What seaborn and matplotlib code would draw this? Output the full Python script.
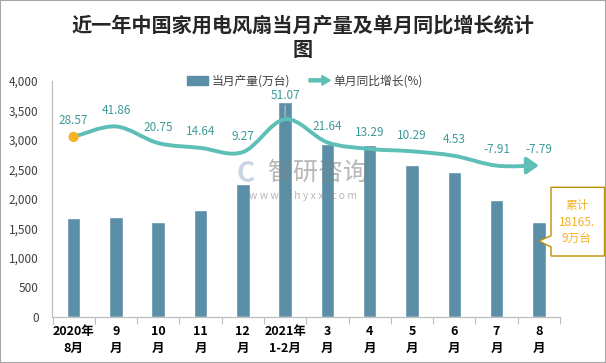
import matplotlib
matplotlib.use("Agg")
import matplotlib.pyplot as plt
import seaborn as sns
from matplotlib.patches import FancyArrowPatch, FancyArrow, Patch, Polygon, Rectangle
from matplotlib.legend_handler import HandlerPatch
from matplotlib.path import Path

months = ["2020年\n8月", "9\n月", "10\n月", "11\n月", "12\n月", "2021年\n1-2月",
          "3\n月", "4\n月", "5\n月", "6\n月", "7\n月", "8\n月"]
output = [1674, 1691, 1606, 1809, 2250, 3634, 2922, 2910, 2572, 2453, 1979, 1611]
yoy = [28.57, 41.86, 20.75, 14.64, 9.27, 51.07, 21.64, 13.29, 10.29, 4.53, -7.91, -7.79]
y_ticks = list(range(0, 4001, 500))

BAR_C = "#5B8FA7"
LINE_C = "#5EBFB6"
LABEL_C = "#3F9A9A"
DOT_C = "#F5B325"

sns.set_theme(style="white")
plt.rcParams["font.family"] = ["Noto Sans CJK SC", "DejaVu Sans"]

W, H = 606, 363
fig = plt.figure(figsize=(W / 100, H / 100), dpi=100)


def px(x, y):
    # pixel (from top-left) -> figure fraction
    return x / W, 1 - y / H


ax = fig.add_axes([52.5 / W, 1 - 316.8 / H, (560 - 52.5) / W, (316.8 - 80.7) / H])
sns.barplot(x=months, y=output, color=BAR_C, saturation=1, width=0.32, ax=ax, zorder=2)
ax.set_xlim(-0.5, len(months) - 0.5)
ax.set_ylim(0, 4000)
ax.set_yticks(y_ticks)
ax.set_yticklabels([f"{v:,}" for v in y_ticks], fontsize=8.5, color="#404040")
ax.tick_params(axis="y", length=0, pad=10)
ax.set_xticks(range(len(months)))
ax.set_xticklabels(months, fontsize=9, fontweight="bold", color="black", linespacing=1.35)
ax.set_xticks([i - 0.5 for i in range(len(months) + 1)], minor=True)
ax.tick_params(axis="x", which="major", length=0, pad=6)
ax.tick_params(axis="x", which="minor", length=5, color="#BFBFBF", width=0.8, bottom=True)
ax.set_xlabel("")
ax.set_ylabel("")
for s in ["top", "right"]:
    ax.spines[s].set_visible(False)
for s in ["left", "bottom"]:
    ax.spines[s].set_color("#BFBFBF")
    ax.spines[s].set_linewidth(0.9)

# secondary axis for growth line
ax2 = ax.twinx()
ax2.set_ylim(-200, 100)
ax2.set_xlim(ax.get_xlim())
ax2.axis("off")

# smooth (Catmull-Rom -> Bezier) path through the data points
pts = list(zip(range(len(yoy)), yoy))
verts = [pts[0]]
codes = [Path.MOVETO]
for i in range(len(pts) - 1):
    p0 = pts[i - 1] if i > 0 else pts[i]
    p1 = pts[i]
    p2 = pts[i + 1]
    p3 = pts[i + 2] if i + 2 < len(pts) else pts[i + 1]
    c1 = (p1[0] + (p2[0] - p0[0]) / 6, p1[1] + (p2[1] - p0[1]) / 6)
    c2 = (p2[0] - (p3[0] - p1[0]) / 6, p2[1] - (p3[1] - p1[1]) / 6)
    verts += [c1, c2, p2]
    codes += [Path.CURVE4] * 3
curve = FancyArrowPatch(path=Path(verts, codes), arrowstyle="-|>,head_length=0.5,head_width=0.35",
                        mutation_scale=14, color=LINE_C, lw=2.8, transform=ax2.transData, zorder=3)
ax2.add_patch(curve)
ax2.scatter([0], [yoy[0]], s=55, color=DOT_C, zorder=4, edgecolor="none")

for i, v in enumerate(yoy):
    off = 24 if v == max(yoy) else 16
    ax2.annotate(f"{v:.2f}", (i, v), xytext=(0, off * 0.72), textcoords="offset points",
                 ha="center", va="center", fontsize=8.5, color=LABEL_C, zorder=5)
ax2.annotate("", (5, max(yoy)), xytext=(0, 12), textcoords="offset points",
             arrowprops=dict(arrowstyle="-", color="#BFBFBF", lw=0.8))

# legend
def make_arrow(legend, orig_handle, xdescent, ydescent, width, height, fontsize):
    return FancyArrow(0, height / 2, width, 0, width=2.2, head_width=7, head_length=6,
                      length_includes_head=True, color=LINE_C)

h_bar = Patch(color=BAR_C, label="当月产量(万台)")
h_line = Patch(color=LINE_C, label="单月同比增长(%)")
fig.legend(handles=[h_bar, h_line], loc="center", bbox_to_anchor=px(305, 81), ncol=2,
           frameon=False, fontsize=8.5, handlelength=1.8, handleheight=0.7, columnspacing=1.6,
           handletextpad=0.3, handler_map={h_line: HandlerPatch(patch_func=make_arrow)},
           labelcolor="#404040")

# title
fig.text(*px(303, 37), "近一年中国家用电风扇当月产量及单月同比增长统计\n图", ha="center", va="center",
         fontsize=14.5, fontweight="bold", color="#262626", linespacing=1.2)

# watermark
fig.text(*px(318, 173), "智研咨询", ha="center", va="center", fontsize=18,
         color="#7F7F7F", alpha=0.55, zorder=10)
fig.text(*px(246, 174), "C", ha="center", va="center", fontsize=20, fontweight="bold",
         color="#9DB4CF", alpha=0.55, zorder=10)
fig.text(*px(303, 196), "w w w . c h y x x . c o m", ha="center", va="center", fontsize=7.5,
         color="#7F7F7F", alpha=0.55, zorder=10)

# cumulative callout
box = [(551, 187.3), (604.5, 187.3), (604.5, 256), (551, 256), (551, 247), (539, 241), (551, 235.7)]
fig.patches.append(Polygon([px(x, y) for x, y in box], closed=True, transform=fig.transFigure,
                           facecolor="white", edgecolor="#BF9000", lw=1, zorder=6))
fig.text(*px(577, 222), "累计\n18165.\n9万台", ha="center", va="center", fontsize=8.5,
         color="#F5B325", linespacing=1.3, zorder=7)

# outer border
fig.patches.append(Rectangle((0, 0), 1, 1, transform=fig.transFigure, fill=False,
                             edgecolor="#A6A6A6", lw=1.5))

fig.savefig("out.png", dpi=100)
